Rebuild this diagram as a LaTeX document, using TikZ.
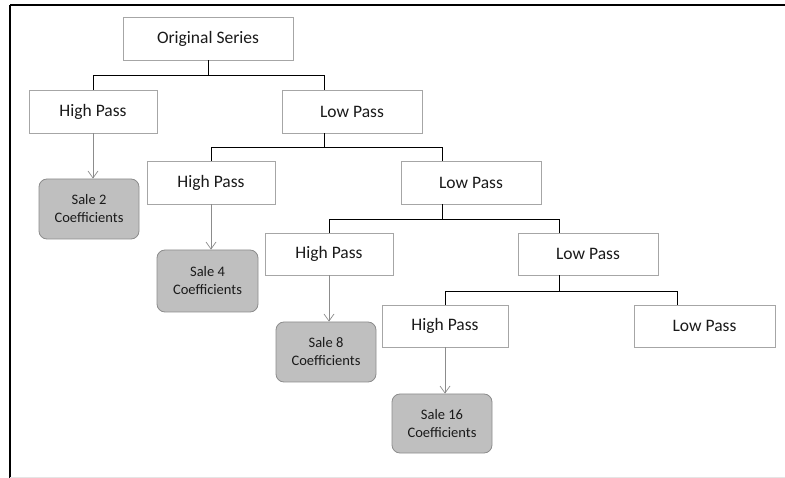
\documentclass[tikz,border=0pt]{standalone}
\usepackage{fontspec}
\setmainfont{Carlito}
\usetikzlibrary{arrows.meta,calc}
\definecolor{boxline}{HTML}{A6A6A6}
\definecolor{salefill}{HTML}{BFBFBF}
\definecolor{saleline}{HTML}{8C8C8C}
\definecolor{txt}{HTML}{1A1A1A}
\definecolor{arrgray}{HTML}{8C8C8C}
\tikzset{
  filt/.style={draw=boxline, line width=0.8pt, fill=white, rectangle, inner sep=0pt,
    minimum height=43pt, text=txt, font=\fontsize{17.5}{21}\selectfont},
  hpbox/.style={filt, minimum width=128pt},
  lpbox/.style={filt, minimum width=140pt},
  salebox/.style={draw=saleline, line width=0.8pt, fill=salefill, rounded corners=8pt,
    inner sep=0pt, minimum width=100pt, minimum height=60pt, align=center, text=txt,
    font=\fontsize{14.5}{18}\selectfont},
  conn/.style={draw=black, line width=0.8pt},
  arr/.style={draw=arrgray, line width=0.7pt, -{Straight Barb[length=7pt,width=10pt,line width=0.7pt]}}
}
\begin{document}
\begin{tikzpicture}[x=1pt,y=-1pt]
\useasboundingbox (0,0) rectangle (785,478);
% frame
\draw[line width=2pt] (10,5) -- (785,5);
\draw[line width=2pt] (10,5) -- (10,478);
\draw[line width=0.5pt, black!10] (10,477) -- (785,477);
% nodes
\node[filt, minimum width=170pt] (os) at (208,38.5) {Original Series};
\node[hpbox] (hp1) at (93,111.5) {High Pass};
\node[lpbox] (lp1) at (352,111.5) {Low Pass};
\node[hpbox] (hp2) at (211,182.5) {High Pass};
\node[lpbox] (lp2) at (471,182.5) {Low Pass};
\node[hpbox, minimum height=42pt] (hp3) at (329,254) {High Pass};
\node[lpbox, minimum height=42pt] (lp3) at (588,254) {Low Pass};
\node[hpbox, minimum width=126pt, minimum height=42pt] (hp4) at (445,326) {High Pass};
\node[lpbox, minimum width=141pt, minimum height=42pt] (lp4) at (704.5,326) {Low Pass};
\node[salebox] (s2) at (89,209) {Sale 2\\Coefficients};
\node[salebox, minimum width=101pt, minimum height=62pt] (s4) at (207.5,281) {Sale 4\\Coefficients};
\node[salebox] (s8) at (326,352) {Sale 8\\Coefficients};
\node[salebox, minimum height=59pt] (s16) at (442,423.5) {Sale 16\\Coefficients};
% tree connectors
\coordinate (c1) at ($(lp1.north west)+(43,0)$);
\coordinate (c1b) at ($(lp1.south west)+(43,0)$);
\coordinate (c2) at ($(lp2.north west)+(42,0)$);
\coordinate (c2b) at ($(lp2.south west)+(42,0)$);
\coordinate (c3) at ($(lp3.north west)+(42,0)$);
\coordinate (c3b) at ($(lp3.south west)+(42,0)$);
\coordinate (c4) at ($(lp4.north west)+(44,0)$);
\draw[conn] (os.south) -- ++(0,15) coordinate (j1);
\draw[conn] (hp1.north) |- (j1) -| (c1);
\draw[conn] (c1b) -- ++(0,14) coordinate (j2);
\draw[conn] (hp2.north) |- (j2) -| (c2);
\draw[conn] (c2b) -- ++(0,15) coordinate (j3);
\draw[conn] (hp3.north) |- (j3) -| (c3);
\draw[conn] (c3b) -- ++(0,16) coordinate (j4);
\draw[conn] (hp4.north) |- (j4) -| (c4);
% arrows
\draw[arr] (hp1.south) -- (hp1.south |- s2.north);
\draw[arr] (hp2.south) -- (hp2.south |- s4.north);
\draw[arr] (hp3.south) -- (hp3.south |- s8.north);
\draw[arr] (hp4.south) -- (hp4.south |- s16.north);
\end{tikzpicture}
\end{document}
